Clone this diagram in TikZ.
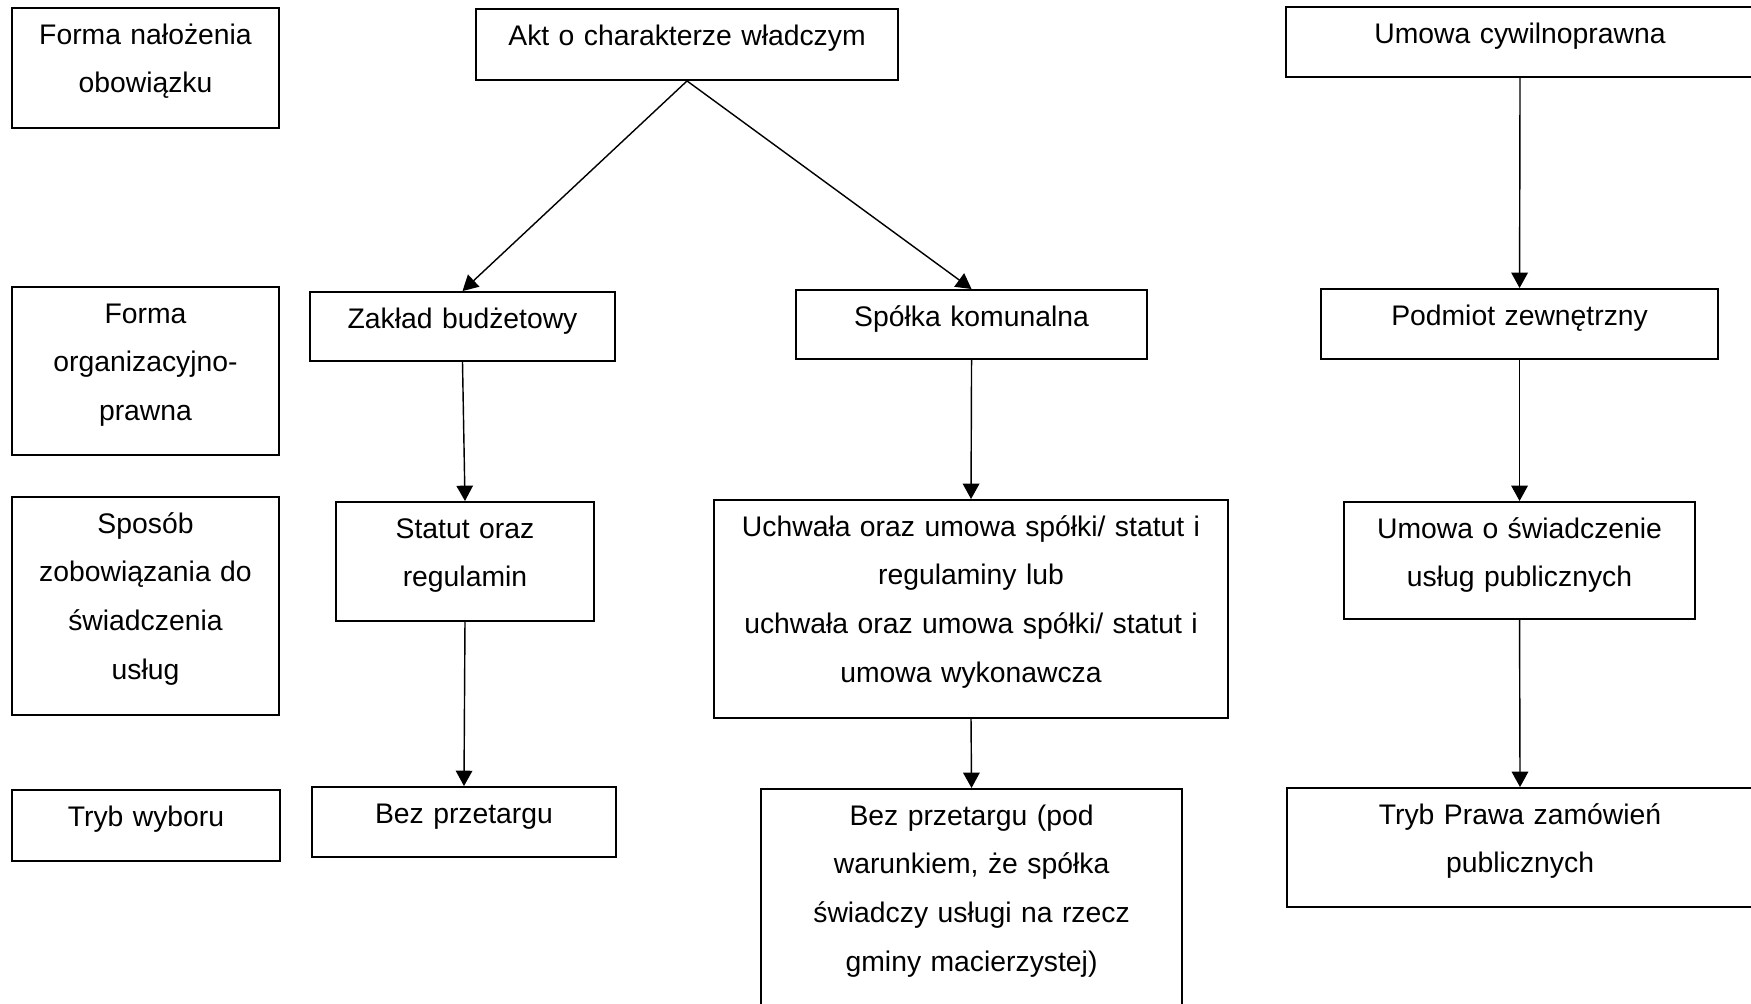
\documentclass[tikz,border=0pt]{standalone}
\usepackage{fontspec}
\setmainfont{Liberation Sans}
\usetikzlibrary{arrows.meta}

\tikzset{
  box/.style={draw, line width=0.8pt, anchor=north, inner sep=0pt, align=center,
    text height=15.3pt, font=\fontsize{12}{20.7}\selectfont},
  arr/.style={-{Triangle[length=6.5pt,width=7pt]}, line width=0.6pt},
}

\begin{document}
\begin{tikzpicture}
  \useasboundingbox (0,0) rectangle (26.07,-14.934);
  \clip (0,0) rectangle (26.07,-14.934);

  % lewa kolumna
  \node[box, text width=3.975cm, text depth=35.6pt] (forma) at (2.166,-0.104) {Forma nałożenia\\obowiązku};
  \node[box, text width=3.975cm, text depth=55.9pt] (organ) at (2.166,-4.258) {Forma\\organizacyjno-\\prawna};
  \node[box, text width=3.975cm, text depth=77.1pt] (sposob) at (2.166,-7.385) {Sposób\\zobowiązania do\\świadczenia\\usług};
  \node[box, text width=3.990cm, text depth=14.8pt] (tryb) at (2.174,-11.747) {Tryb wyboru};

  % gora
  \node[box, text width=6.283cm, text depth=14.8pt] (akt) at (10.229,-0.119) {Akt o charakterze władczym};
  \node[box, text width=6.968cm, text depth=14.4pt] (umowa) at (22.631,-0.089) {Umowa cywilnoprawna};

  % zaklad budzetowy
  \node[box, text width=4.541cm, text depth=14.0pt] (zaklad) at (6.886,-4.333) {Zakład budżetowy};
  \node[box, text width=3.841cm, text depth=35.2pt] (statut) at (6.923,-7.459) {Statut oraz\\regulamin};
  \node[box, text width=4.526cm, text depth=14.4pt] (bez) at (6.908,-11.703) {Bez przetargu};

  % spolka komunalna
  \node[box, text width=5.226cm, text depth=14.0pt] (spolka) at (14.465,-4.303) {Spółka komunalna};
  \node[box, text width=7.653cm, text depth=77.1pt] (uchwala) at (14.457,-7.430) {Uchwała oraz umowa spółki/ statut i\\regulaminy lub\\uchwała oraz umowa spółki/ statut i\\umowa wykonawcza};
  \node[box, text width=6.268cm, text depth=82.2pt] (bezpod) at (14.465,-11.732) {Bez przetargu (pod\\warunkiem, że spółka\\świadczy usługi na rzecz\\gminy macierzystej)};

  % podmiot zewnetrzny
  \node[box, text width=5.911cm, text depth=14.4pt] (podmiot) at (22.624,-4.288) {Podmiot zewnętrzny};
  \node[box, text width=5.226cm, text depth=34.3pt] (uslugi) at (22.624,-7.459) {Umowa o świadczenie\\usług publicznych};
  \node[box, text width=6.938cm, text depth=35.2pt] (pzp) at (22.631,-11.718) {Tryb Prawa zamówień\\publicznych};

  \draw[arr] (akt.south) -- (zaklad.north);
  \draw[arr] (akt.south) -- (spolka.north);
  \draw[arr] (zaklad.south) -- (statut.north);
  \draw[arr] (statut.south) -- (bez.north);
  \draw[arr] (spolka.south) -- (uchwala.north);
  \draw[arr] (uchwala.south) -- (bezpod.north);
  \draw[arr] (umowa.south) -- (podmiot.north);
  \draw[arr] (podmiot.south) -- (uslugi.north);
  \draw[arr] (uslugi.south) -- (pzp.north);
\end{tikzpicture}
\end{document}
